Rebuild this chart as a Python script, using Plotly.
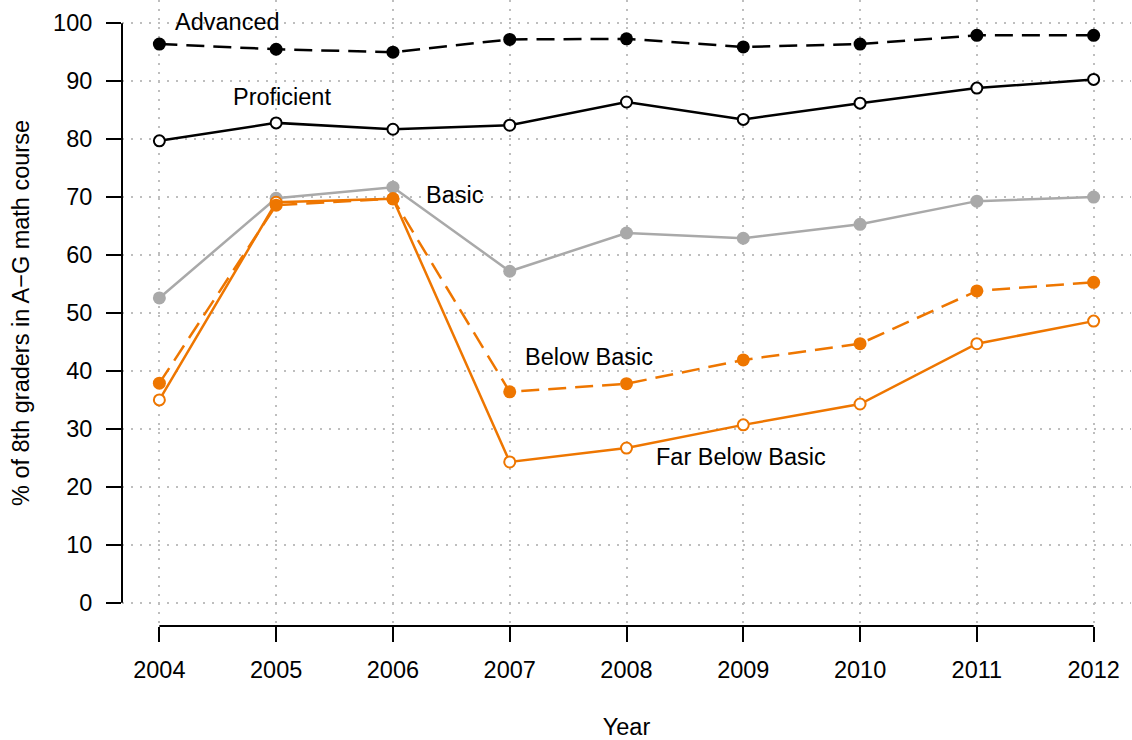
import plotly.graph_objects as go

years = [2004, 2005, 2006, 2007, 2008, 2009, 2010, 2011, 2012]
advanced = [96.4, 95.5, 95.0, 97.2, 97.3, 95.9, 96.4, 97.9, 97.9]
proficient = [79.7, 82.8, 81.7, 82.4, 86.4, 83.4, 86.2, 88.8, 90.3]
basic = [52.6, 69.8, 71.7, 57.2, 63.8, 62.9, 65.3, 69.3, 70.0]
below_basic = [37.9, 68.6, 69.7, 36.4, 37.8, 41.9, 44.7, 53.8, 55.3]
far_below_basic = [35.0, 69.1, 69.7, 24.3, 26.7, 30.7, 34.3, 44.7, 48.6]

labels = ["Advanced", "Proficient", "Basic", "Below Basic", "Far Below Basic"]
label_x = [2004.58, 2005.05, 2006.53, 2007.68, 2008.98]
label_y = [100.2, 87.2, 70.3, 42.4, 25.2]

ORANGE = "#EE7600"
GREY = "#A9A9A9"
FONT = "Liberation Sans, Arial, sans-serif"
FS = 23.5

fig = go.Figure()

def add(y, color, dash, filled):
    if filled:
        marker = dict(size=13, color=color, line=dict(width=0))
    else:
        marker = dict(size=11, color="white", line=dict(color=color, width=2))
    fig.add_trace(go.Scatter(
        x=years, y=y, mode="lines+markers",
        line=dict(color=color, width=2.5, dash=dash),
        marker=marker, showlegend=False, hoverinfo="x+y"))

add(basic, GREY, "solid", True)
add(far_below_basic, ORANGE, "solid", False)
add(below_basic, ORANGE, "18px,9px", True)
add(proficient, "black", "solid", False)
add(advanced, "black", "18px,9px", True)

for t, x, y in zip(labels, label_x, label_y):
    fig.add_annotation(x=x, y=y, text=t, showarrow=False,
                       font=dict(family=FONT, size=FS, color="black"),
                       xanchor="center", yanchor="middle")

# R-style axis lines spanning only from first to last tick
fig.add_shape(type="line", xref="x", yref="paper", x0=2004, x1=2012, y0=0, y1=0,
              line=dict(color="black", width=2))
fig.add_shape(type="line", xref="paper", yref="y", x0=0, x1=0, y0=0, y1=100,
              line=dict(color="black", width=2))

fig.update_xaxes(
    range=[2003.68, 2012.32], tickvals=years, ticktext=[str(y) for y in years],
    showline=False, zeroline=False, automargin=False,
    ticks="outside", ticklen=15, tickwidth=2, tickcolor="black",
    ticklabelstandoff=8,
    showgrid=True, gridcolor="#BEBEBE", griddash="2px,7px", gridwidth=1.5,
    tickfont=dict(family=FONT, size=FS, color="black"),
    title=dict(text="Year", font=dict(family=FONT, size=FS, color="black"), standoff=39),
)
fig.update_yaxes(
    range=[-4, 104], tickvals=list(range(0, 101, 10)),
    showline=False, zeroline=False, automargin=False,
    ticks="outside", ticklen=15, tickwidth=2, tickcolor="black",
    ticklabelstandoff=9,
    showgrid=True, gridcolor="#BEBEBE", griddash="2px,7px", gridwidth=1.5,
    tickfont=dict(family=FONT, size=FS, color="black"),
    title=dict(text="% of 8th graders in A\u2212G math course",
               font=dict(family=FONT, size=FS, color="black"), standoff=16),
)

fig.update_layout(
    width=1132, height=740,
    margin=dict(l=122, r=1, t=0, b=114),
    plot_bgcolor="white", paper_bgcolor="white",
)

fig.write_html("out.html", config={"displayModeBar": False},
               post_script="document.body.style.margin='0';")
